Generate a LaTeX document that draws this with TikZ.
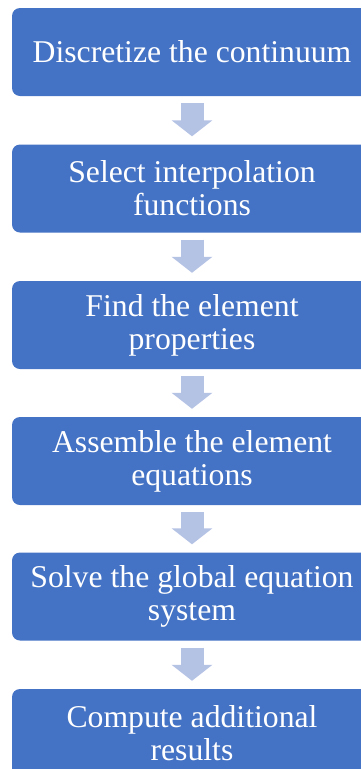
\documentclass[tikz,border=0pt]{standalone}
\usepackage{fontspec}
\setmainfont{Liberation Serif}
\usetikzlibrary{arrows.meta}
\pgfdeclarelayer{bg}
\pgfsetlayers{bg,main}
\definecolor{stepblue}{HTML}{4472C4}
\definecolor{arrowblue}{HTML}{B4C2E4}

\begin{document}
\begin{tikzpicture}[x=1pt, y=-1pt,
        stepbox/.style={fill=stepblue, rounded corners=8pt, minimum width=360pt,
                minimum height=88pt, inner sep=0pt, align=center, text=white,
                font=\fontsize{31.7pt}{33pt}\selectfont},
        flowarrow/.style={draw=arrowblue, line width=23pt, shorten <=7pt, shorten >=8pt,
                -{Triangle[width=40pt, length=16pt]}}]
        \useasboundingbox (0,0) rectangle (361,769);
        \node (s1) [stepbox] at (192, 52) {Discretize the continuum};
        \node (s2) [stepbox] at (192, 188.5) {Select interpolation\\functions};
        \node (s3) [stepbox] at (192, 325) {Find the element\\properties};
        \node (s4) [stepbox] at (192, 461) {Assemble the element\\equations};
        \node (s5) [stepbox] at (192, 596.5) {Solve the global equation\\system};
        \node (s6) [stepbox] at (192, 733) {Compute additional\\results};
        \begin{pgfonlayer}{bg}
                \draw (s1) edge [flowarrow] (s2);
                \draw (s2) edge [flowarrow] (s3);
                \draw (s3) edge [flowarrow] (s4);
                \draw (s4) edge [flowarrow] (s5);
                \draw (s5) edge [flowarrow] (s6);
        \end{pgfonlayer}
\end{tikzpicture}
\end{document}
